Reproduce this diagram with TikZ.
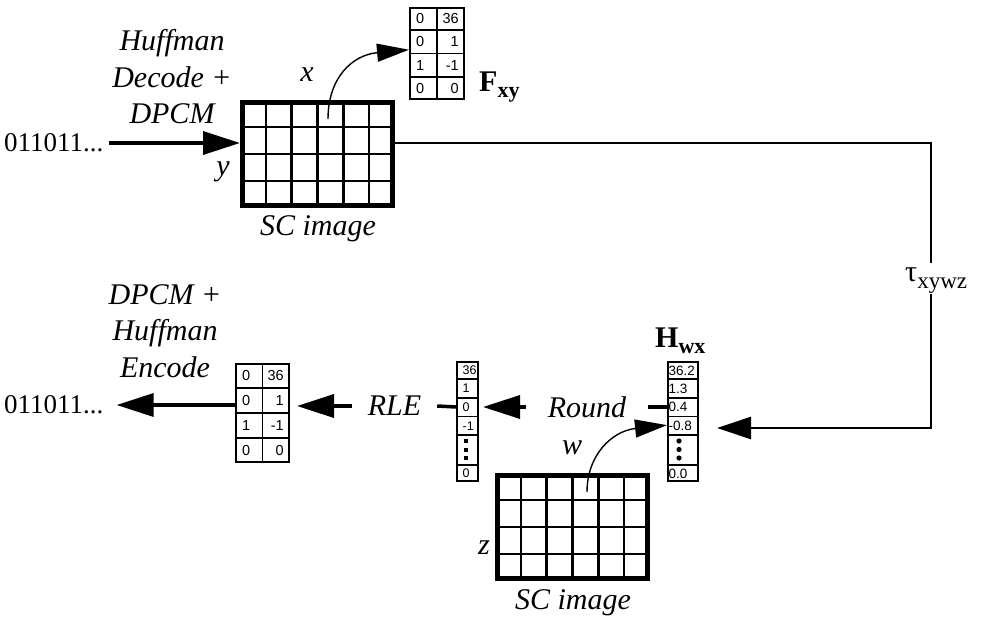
\documentclass[tikz,border=0pt]{standalone}
\usepackage{fontspec}
\setmainfont{Liberation Serif}
\newfontfamily\cellfont{Liberation Sans}
\usetikzlibrary{arrows.meta,calc}
\begin{document}
\begin{tikzpicture}[x=1pt,y=-1pt,
  lab/.style={font=\fontsize{30}{36.5}\selectfont\itshape, inner sep=0pt, align=center},
  bits/.style={font=\fontsize{27}{30}\selectfont, inner sep=0pt, anchor=west},
  gridbox/.style={draw, line width=5pt, minimum width=150pt, minimum height=103pt, inner sep=0pt},
  gridline/.style={line width=2.4pt},
  matbox/.style={draw, line width=2pt, inner sep=0pt},
  cellline/.style={line width=1.6pt},
  mattxt/.style={font=\cellfont\fontsize{14.5}{14.5}\selectfont, inner sep=0pt},
  vectxt/.style={font=\cellfont\fontsize{12.5}{12.5}\selectfont, inner sep=0pt, anchor=west},
  htxt/.style={font=\cellfont\fontsize{13.5}{13.5}\selectfont, inner sep=0pt, anchor=west},
  bigarrow/.style={line width=3.5pt, -{Triangle[length=37pt,width=23pt]}},
  thickline/.style={line width=3.5pt},
  connline/.style={line width=2.4pt},
  curvearrow/.style={line width=1.4pt, -{Triangle[length=32pt,width=18pt]}},
  boldlab/.style={font=\fontsize{30}{30}\selectfont\bfseries, inner sep=0pt, anchor=base west},
  gaplab/.style={font=\fontsize{30}{30}\selectfont\itshape, inner sep=0pt}
]
\useasboundingbox[fill=white] (0,0) rectangle (982,628);

% ---------- top grid (SC image) ----------
\node[gridbox] (topgrid) at (317.5,154) {};
\foreach \i in {1,...,5}
  \draw[gridline] ($(topgrid.north west)!{\i/6}!(topgrid.north east)$) -- ($(topgrid.south west)!{\i/6}!(topgrid.south east)$);
\foreach \i in {1,2,3}
  \draw[gridline] ($(topgrid.north west)!{\i/4}!(topgrid.south west)$) -- ($(topgrid.north east)!{\i/4}!(topgrid.south east)$);
\node[lab, anchor=base] (sctop) at (318,236) {SC image};
\node[lab] (xlab) at (307,75) {x};
\node[lab] (ylab) at (223,172) {y};
\node[lab] (dec) at (172,77) {Huffman\\Decode +\\DPCM};
\node[bits] (bitsA) at (4,143) {011011...};
\draw[bigarrow] ([xshift=5pt]bitsA.east) -- ([yshift=11pt]topgrid.west);

% ---------- F matrix ----------
\node[matbox, minimum width=54pt, minimum height=91pt] (F) at (437,53.5) {};
\draw[cellline] (F.north) -- (F.south);
\foreach \i in {1,2,3}
  \draw[cellline] ($(F.north west)!{\i/4}!(F.south west)$) -- ($(F.north east)!{\i/4}!(F.south east)$);
\foreach \r/\a/\b in {0/0/36,1/0/1,2/1/-1,3/0/0}{
  \node[mattxt, anchor=west] at ($(F.north west)!{(\r+0.5)/4}!(F.south west)+(7,0)$) {\a};
  \node[mattxt, anchor=east] at ($(F.north east)!{(\r+0.5)/4}!(F.south east)+(-6,0)$) {\b};
}
\node[boldlab] (Flab) at (479,92) {F\raisebox{-6pt}{\fontsize{22}{22}\selectfont xy}};
\coordinate (xs) at (328,119);
\draw[curvearrow] (xs) .. controls (328,78) and (352,55) .. ($(F.north west)!0.46!(F.south west)$);

% ---------- tau connector ----------
\node[anchor=base west, inner sep=0pt, font=\fontsize{30}{30}\selectfont] (tau) at (905,281) {τ\raisebox{-7pt}{\fontsize{23}{23}\selectfont xywz}};
\coordinate (tautop) at (931,263);
\coordinate (taubot) at (931,294);

% ---------- H vector ----------
\node[matbox, minimum width=30pt, minimum height=119pt] (Hv) at (683,421.5) {};
\foreach \yy in {379,398,416.5,435,465}
  \draw[cellline] (667,\yy) -- (699,\yy);
\foreach \yy/\t in {370.5/36.2,388.5/1.3,407.2/0.4,425.7/-0.8,473.5/0.0}
  \node[htxt] at (668.5,\yy) {\t};
\foreach \yy in {441,449.5,458}
  \fill (679,\yy) circle (2.6pt);
\node[boldlab] (Hlab) at (655,347) {H\raisebox{-6pt}{\fontsize{22}{22}\selectfont wx}};

\draw[connline] ([yshift=11pt]topgrid.east) -| (tautop);
\draw[line width=2.6pt, -{Triangle[length=34pt,width=22pt]}, shorten >=18pt] (taubot) |- ([yshift=-6.5pt]Hv.east);

% ---------- middle vector ----------
\node[matbox, minimum width=21pt, minimum height=119pt] (V) at (467.5,421.5) {};
\foreach \yy in {379,398,416.5,435,465}
  \draw[cellline] (456,\yy) -- (479,\yy);
\foreach \yy/\t in {370.5/36,388.5/1,407.2/0,425.7/-1,473.5/0}
  \node[vectxt] at (462.5,\yy) {\t};
\foreach \yy in {441,449.5,458}
  \fill (464,\yy-2) rectangle (468,\yy+2);

% ---------- bottom grid ----------
\node[gridbox] (botgrid) at (572.5,527) {};
\foreach \i in {1,...,5}
  \draw[gridline] ($(botgrid.north west)!{\i/6}!(botgrid.north east)$) -- ($(botgrid.south west)!{\i/6}!(botgrid.south east)$);
\foreach \i in {1,2,3}
  \draw[gridline] ($(botgrid.north west)!{\i/4}!(botgrid.south west)$) -- ($(botgrid.north east)!{\i/4}!(botgrid.south east)$);
\node[lab, anchor=base] (scbot) at (573,609) {SC image};
\node[lab] (wlab) at (572,448) {w};
\node[lab] (zlab) at (484,548) {z};
\coordinate (ws) at (587,492);
\draw[curvearrow] (ws) .. controls (587,455) and (612,431) .. ($(Hv.north west)!0.53!(Hv.south west)$);

% ---------- Round ----------
\node[gaplab, minimum width=122pt] (round) at (587,407) {Round};
\draw[thickline] ([yshift=14.5pt]Hv.west) -- (round.east);
\draw[bigarrow, shorten >=4pt] (round.west) -- ([yshift=14.5pt]V.east);

% ---------- RLE ----------
\node[matbox, minimum width=53pt, minimum height=98pt] (L) at (262.5,413) {};
\draw[cellline] (L.north) -- (L.south);
\foreach \i in {1,2,3}
  \draw[cellline] ($(L.north west)!{\i/4}!(L.south west)$) -- ($(L.north east)!{\i/4}!(L.south east)$);
\foreach \r/\a/\b in {0/0/36,1/0/1,2/1/-1,3/0/0}{
  \node[mattxt, anchor=west] at ($(L.north west)!{(\r+0.5)/4}!(L.south west)+(7,0)$) {\a};
  \node[mattxt, anchor=east] at ($(L.north east)!{(\r+0.5)/4}!(L.south east)+(-6,0)$) {\b};
}
\node[gaplab, minimum width=85pt] (rle) at (394.5,406) {RLE};
\draw[thickline] ([yshift=14.5pt]V.west) -- (rle.east);
\draw[bigarrow, shorten >=7pt] (rle.west) -- ([yshift=7pt]L.east);

% ---------- output ----------
\node[lab] (enc) at (165,331) {DPCM +\\Huffman\\Encode};
\node[bits] (bitsB) at (4,405) {011011...};
\draw[bigarrow, shorten >=13pt] ([yshift=8pt]L.west) -- (bitsB.east);
\end{tikzpicture}
\end{document}
